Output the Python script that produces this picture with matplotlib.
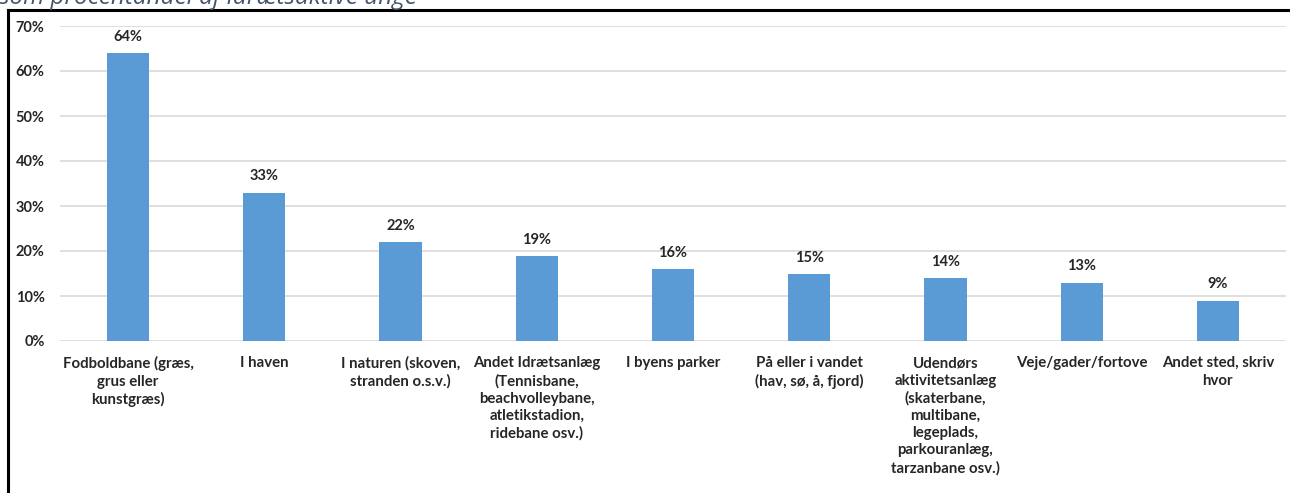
import matplotlib
matplotlib.use("Agg")
import matplotlib.pyplot as plt
from matplotlib.lines import Line2D
from matplotlib.ticker import FuncFormatter

categories = [
    "Fodboldbane (græs,\ngrus eller\nkunstgræs)",
    "I haven",
    "I naturen (skoven,\nstranden o.s.v.)",
    "Andet Idrætsanlæg\n(Tennisbane,\nbeachvolleybane,\natletikstadion,\nridebane osv.)",
    "I byens parker",
    "På eller i vandet\n(hav, sø, å, fjord)",
    "Udendørs\naktivitetsanlæg\n(skaterbane,\nmultibane,\nlegeplads,\nparkouranlæg,\ntarzanbane osv.)",
    "Veje/gader/fortove",
    "Andet sted, skriv\nhvor",
]
values = [64, 33, 22, 19, 16, 15, 14, 13, 9]
y_ticks = [0, 10, 20, 30, 40, 50, 60, 70]
subtitle = "som procentandel af idrætsaktive unge"

plt.rcParams["font.family"] = ["Lato", "DejaVu Sans"]

W, H = 1290, 493
fig = plt.figure(figsize=(W / 100, H / 100), dpi=100)
ax = fig.add_axes([60 / W, 1 - 341 / H, (1286 - 60) / W, (341 - 26) / H])

x = list(range(len(categories)))
bars = ax.bar(x, values, width=0.31, color="#5B9BD5", zorder=3)
for xi, v in zip(x, values):
    ax.text(xi, v + 2.0, f"{v}%", ha="center", va="bottom",
            fontsize=10.5, fontweight="bold", color="#262626")

ax.set_xlim(-0.5, len(categories) - 0.5)
ax.set_ylim(0, 70)
ax.set_yticks(y_ticks)
ax.yaxis.set_major_formatter(FuncFormatter(lambda v, p: f"{v:.0f}%"))
ax.grid(axis="y", color="#D9D9D9", linewidth=1.2, zorder=0)
ax.set_axisbelow(True)
for s in ax.spines.values():
    s.set_visible(False)
ax.tick_params(axis="y", length=0, pad=11, labelsize=10.5, labelcolor="#262626")
for lbl in ax.get_yticklabels():
    lbl.set_fontweight("bold")
ax.set_xticks(x)
ax.set_xticklabels(categories, fontsize=10.8, fontweight="bold", color="#262626",
                   linespacing=1.3, va="top")
ax.tick_params(axis="x", length=0, pad=11)

# outer frame (left and top edges)
fig.add_artist(Line2D([7.5 / W, 7.5 / W], [0, 1 - 10 / H], transform=fig.transFigure,
                      color="black", linewidth=2.2))
fig.add_artist(Line2D([7.5 / W, 1], [1 - 10 / H, 1 - 10 / H], transform=fig.transFigure,
                      color="black", linewidth=2.2))

fig.text(-1 / W, 1 - 4 / H, subtitle, ha="left", va="baseline", fontsize=17.5,
         style="italic", color="#44546A", family=["Open Sans", "DejaVu Sans"])

fig.savefig("out.png", dpi=100)
